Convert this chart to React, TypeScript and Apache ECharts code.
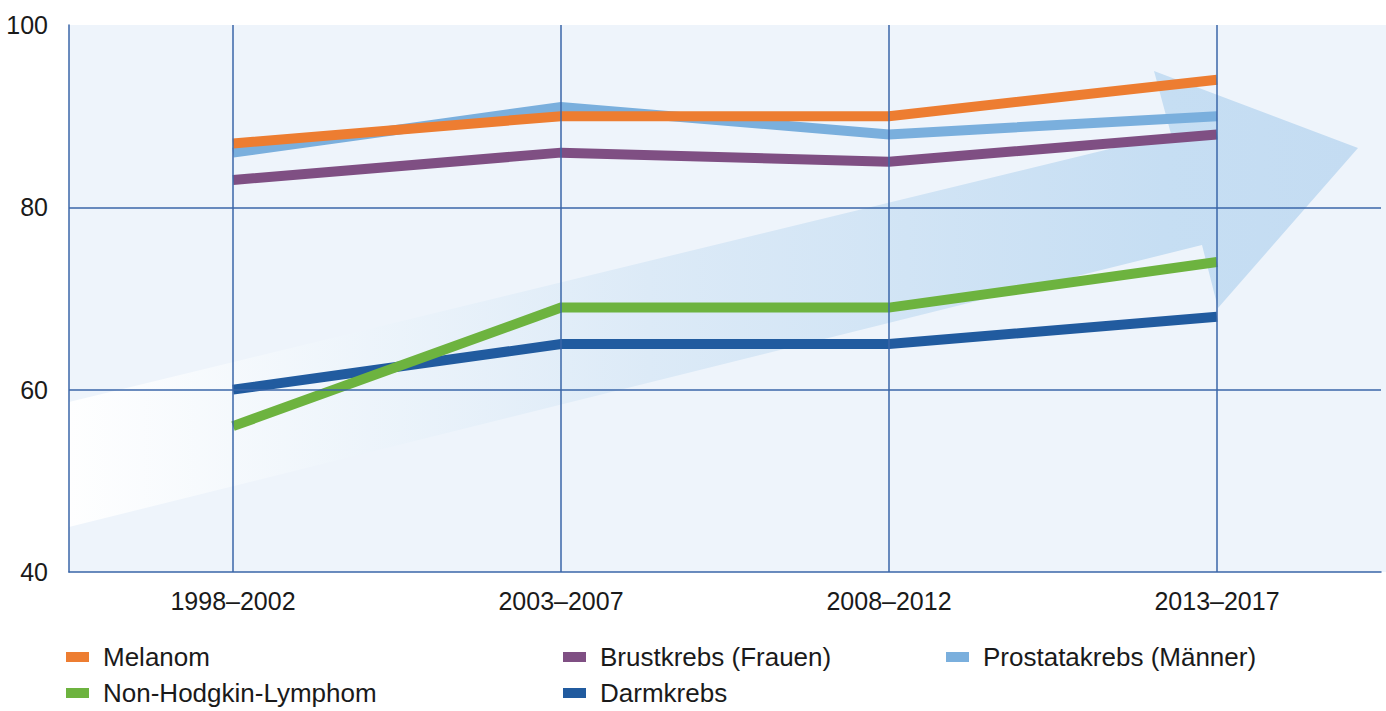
import React, { useEffect, useRef } from "react";
import * as echarts from "echarts";

const categories = ["1998–2002", "2003–2007", "2008–2012", "2013–2017"];
const melanom = [87, 90, 90, 94];
const brustkrebs = [83, 86, 85, 88];
const prostatakrebs = [86, 91, 88, 90];
const nhl = [56, 69, 69, 74];
const darmkrebs = [60, 65, 65, 68];
const yTicks = { min: 40, max: 100, interval: 20 };
const gridLineValues = [60, 80];

const FONT = "'Liberation Sans', Arial, sans-serif";
const GRID_COLOR = "#3a66a8";

export default function App() {
  const ref = useRef<HTMLDivElement>(null);

  useEffect(() => {
    document.body.style.margin = "0";
    if (!ref.current) return;
    const chart = echarts.init(ref.current, null, { renderer: "svg" });

    const lineSeries = (name: string, data: number[], color: string, extra: any = {}) => ({
      name,
      type: "line",
      data,
      symbol: "none",
      z: 3,
      lineStyle: { width: 10, color, cap: "butt", join: "miter" },
      itemStyle: { color },
      emphasis: { disabled: true },
      ...extra,
    });

    const legendBase = {
      orient: "vertical",
      top: 644,
      height: 67,
      padding: 0,
      itemWidth: 23,
      itemHeight: 10,
      itemGap: 10,
      icon: "rect",
      selectedMode: false,
      textStyle: {
        fontFamily: FONT,
        fontSize: 26,
        lineHeight: 26,
        color: "#1a1a1a",
        padding: [0, 0, 0, 9],
      },
    };

    chart.setOption({
      animation: false,
      textStyle: { fontFamily: FONT },
      grid: { left: 69, right: 5, top: 25, bottom: 139, containLabel: false },
      graphic: [
        {
          type: "rect",
          z: 0,
          silent: true,
          shape: { x: 69, y: 25, width: 1317, height: 547 },
          style: { fill: "#eef4fb" },
        },
        {
          type: "polygon",
          z: 1,
          silent: true,
          shape: {
            points: [
              [69, 402],
              [1171, 134],
              [1154, 71],
              [1358, 148],
              [1218, 308],
              [1202, 245],
              [69, 527],
            ],
          },
          style: {
            fill: {
              type: "linear",
              x: 0,
              y: 0,
              x2: 1,
              y2: 0,
              colorStops: [
                { offset: 0, color: "rgba(255,255,255,0.95)" },
                { offset: 0.45, color: "#dceaf7" },
                { offset: 0.85, color: "#c6def3" },
                { offset: 1, color: "#c4dcf2" },
              ],
            },
          },
        },
      ],
      legend: [
        { ...legendBase, left: 66, data: ["Melanom", "Non-Hodgkin-Lymphom"] },
        { ...legendBase, left: 563, data: ["Brustkrebs (Frauen)", "Darmkrebs"] },
        { ...legendBase, left: 946, data: ["Prostatakrebs (Männer)"] },
      ],
      xAxis: {
        type: "category",
        data: categories,
        boundaryGap: true,
        z: 5,
        axisLine: { show: true, lineStyle: { color: GRID_COLOR, width: 1.5 } },
        axisTick: { show: false },
        splitLine: { show: false },
        axisLabel: { fontSize: 25, color: "#1a1a1a", margin: 16, fontFamily: FONT },
      },
      yAxis: {
        type: "value",
        min: yTicks.min,
        max: yTicks.max,
        interval: yTicks.interval,
        z: 5,
        axisLine: { show: true, lineStyle: { color: GRID_COLOR, width: 1.5 } },
        axisTick: { show: false },
        splitLine: { show: false },
        axisLabel: { fontSize: 25, color: "#1a1a1a", margin: 21, fontFamily: FONT },
      },
      series: [
        {
          name: "grid",
          type: "line",
          data: [],
          z: 2,
          silent: true,
          markLine: {
            silent: true,
            symbol: ["none", "none"],
            label: { show: false },
            emphasis: { disabled: true },
            lineStyle: { type: "solid", color: GRID_COLOR, width: 1.5 },
            data: [
              ...categories.map((c) => ({ xAxis: c })),
              ...gridLineValues.map((v) => ({ yAxis: v })),
            ],
          },
        },
        lineSeries("Darmkrebs", darmkrebs, "#215b9f"),
        lineSeries("Non-Hodgkin-Lymphom", nhl, "#6db33f"),
        lineSeries("Prostatakrebs (Männer)", prostatakrebs, "#7aafdd"),
        lineSeries("Brustkrebs (Frauen)", brustkrebs, "#7f4f83"),
        lineSeries("Melanom", melanom, "#ed7d31"),
      ],
    });

    return () => chart.dispose();
  }, []);

  return <div ref={ref} style={{ width: 1386, height: 711 }} />;
}
